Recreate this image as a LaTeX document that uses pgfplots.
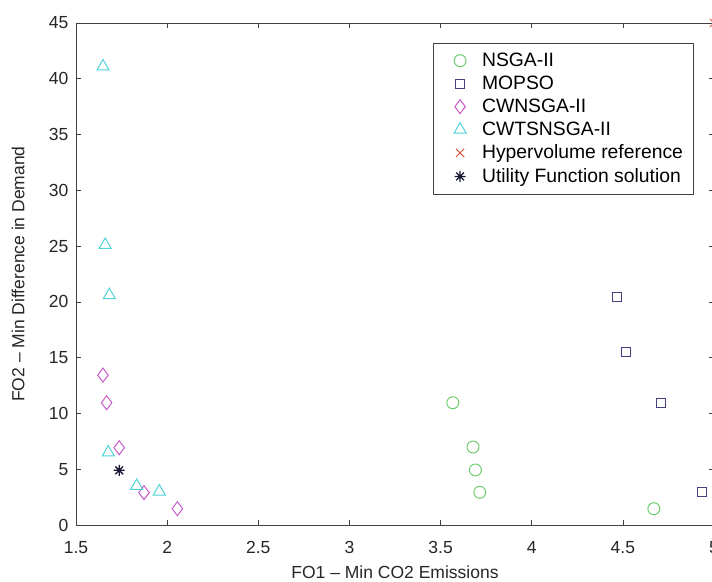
\documentclass[border=0pt]{standalone}
\usepackage{pgfplots}
\pgfplotsset{compat=1.18}
\usepackage{fontspec}
\setmainfont{Liberation Sans}

\definecolor{cNSGA}{RGB}{110,205,110}
\definecolor{cMOPSO}{RGB}{65,65,130}
\definecolor{cCWN}{RGB}{200,90,200}
\definecolor{cCWTS}{RGB}{80,210,215}
\definecolor{cHV}{RGB}{215,85,65}
\definecolor{cUF}{RGB}{25,25,55}
\definecolor{axgray}{RGB}{64,64,64}

% MATLAB-style '*' marker: eight arms
\pgfdeclareplotmark{mstar}{%
  \pgfpathmoveto{\pgfqpoint{-\pgfplotmarksize}{0pt}}%
  \pgfpathlineto{\pgfqpoint{\pgfplotmarksize}{0pt}}%
  \pgfpathmoveto{\pgfqpoint{0pt}{-\pgfplotmarksize}}%
  \pgfpathlineto{\pgfqpoint{0pt}{\pgfplotmarksize}}%
  \pgfpathmoveto{\pgfqpoint{-0.707\pgfplotmarksize}{-0.707\pgfplotmarksize}}%
  \pgfpathlineto{\pgfqpoint{0.707\pgfplotmarksize}{0.707\pgfplotmarksize}}%
  \pgfpathmoveto{\pgfqpoint{-0.707\pgfplotmarksize}{0.707\pgfplotmarksize}}%
  \pgfpathlineto{\pgfqpoint{0.707\pgfplotmarksize}{-0.707\pgfplotmarksize}}%
  \pgfusepathqstroke}

\begin{document}
\begin{tikzpicture}
\begin{axis}[
    scale only axis,
    width=382.8pt,
    height=301.2pt,
    xmin=1.5, xmax=5,
    ymin=0, ymax=45,
    xtick={1.5,2,...,5},
    ytick={0,5,...,45},
    tick align=inside,
    major tick length=3pt,
    axis line style={draw=axgray},
    every tick/.style={draw=axgray},
    tick label style={font=\fontsize{10.5}{12}\selectfont, text=black!85},
    xticklabel style={yshift=-6.5pt},
    yticklabel style={xshift=-1pt},
    /pgf/number format/assume math mode=true,
    label style={font=\fontsize{10.5}{12}\selectfont, text=black!85},
    xlabel={FO1 – Min CO2 Emissions},
    ylabel={FO2 – Min Difference in Demand},
    xlabel style={at={(axis description cs:0.5,-0.0936)}, anchor=center},
    ylabel style={at={(axis description cs:-0.0909,0.5)}, anchor=center},
    legend cell align=left,
    legend style={
        at={(axis description cs:0.9676,0.9608)},
        anchor=north east,
        draw=axgray,
        font=\fontsize{11.6}{13}\selectfont,
        row sep=0.2pt,
        inner xsep=4pt,
        inner ysep=3.8pt
    },
    every axis plot/.append style={
        only marks, line width=0.6pt,
        legend image code/.code={%
            \draw[#1] (-4.2pt,0pt) (18pt,0pt);
            \draw[#1] plot[only marks] coordinates {(7.2pt,0pt)};}
    }
]
% --- NSGA-II ---
\addplot[mark=o, mark size=3.6pt, color=cNSGA]
coordinates {(3.567,10.96) (3.678,6.99) (3.691,4.93) (3.715,2.93) (4.670,1.46)};
% --- MOPSO ---
\addplot[mark=square, mark size=2.7pt, color=cMOPSO]
coordinates {(4.470,20.43) (4.515,15.47) (4.709,10.93) (4.934,2.93)};
% --- CWNSGA-II ---
\addplot[mark=diamond, mark size=4.2pt, color=cCWN]
coordinates {(1.648,13.44) (1.668,10.96) (1.737,6.93) (1.873,2.90) (2.056,1.46)};
% --- CWTSNSGA-II ---
\addplot[mark=triangle, mark size=4.2pt, color=cCWTS]
coordinates {(1.648,41.1) (1.660,25.1) (1.683,20.6) (1.677,6.5) (1.833,3.5) (1.957,3.0)};
% --- hypervolume reference ---
\addplot[mark=x, mark size=3.5pt, color=cHV]
coordinates {(5,45)};
% --- utility function solution ---
\addplot[mark=mstar, mark size=3.3pt, color=cUF, line width=0.75pt]
coordinates {(1.737,4.9)};

\legend{NSGA-II, MOPSO, CWNSGA-II, CWTSNSGA-II, Hypervolume reference, Utility Function solution}
\end{axis}
\pgfresetboundingbox
\path ([xshift=-45.6pt,yshift=-34.2pt]current axis.south west)
    rectangle ([xshift=-1.2pt,yshift=13.8pt]current axis.north east);
\end{tikzpicture}
\end{document}
